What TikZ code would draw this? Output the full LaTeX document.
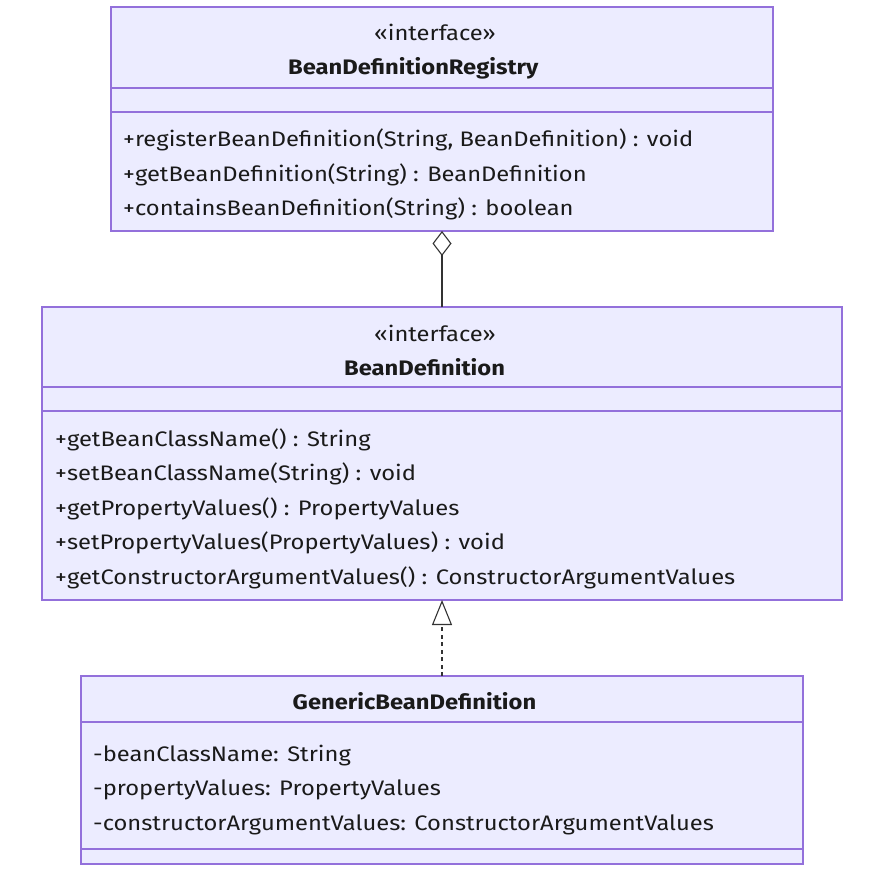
\documentclass[tikz,border=0pt]{standalone}
\usepackage{fontspec}
\setmainfont[FakeStretch=1.13]{Fira Sans}
\usetikzlibrary{arrows.meta}
\definecolor{boxfill}{HTML}{ECECFF}
\definecolor{boxline}{HTML}{9370DB}
\definecolor{txt}{HTML}{1A1A1A}
\definecolor{conncol}{HTML}{333333}
\begin{document}
\begin{tikzpicture}[x=1pt,y=-1pt,
  classbox/.style={draw=boxline, fill=boxfill, line width=1.3pt, inner sep=0pt, outer sep=0pt},
  divider/.style={draw=boxline, line width=1.3pt},
  member/.style={anchor=base west, inner sep=0pt, font=\fontsize{21}{21}\selectfont, text=txt},
  title/.style={anchor=base west, inner sep=0pt, font=\bfseries\fontsize{21}{21}\selectfont, text=txt},
  stereo/.style={anchor=base west, inner sep=0pt, font=\fontsize{21}{21}\selectfont, text=txt},
  conn/.style={draw=conncol, line width=1.1pt}]
\useasboundingbox (0,0) rectangle (877,874);
% boxes
\node[classbox, minimum width=662pt, minimum height=224pt] (reg) at (442,119) {};
\node[classbox, minimum width=800pt, minimum height=293pt] (bd) at (442,453.5) {};
\node[classbox, minimum width=722pt, minimum height=188pt] (gen) at (442,770) {};
% dividers
\draw[divider] (reg.west |- 0,88) -- (reg.east |- 0,88);
\draw[divider] (reg.west |- 0,112) -- (reg.east |- 0,112);
\draw[divider] (bd.west |- 0,387) -- (bd.east |- 0,387);
\draw[divider] (bd.west |- 0,411) -- (bd.east |- 0,411);
\draw[divider] (gen.west |- 0,722) -- (gen.east |- 0,722);
\draw[divider] (gen.west |- 0,849) -- (gen.east |- 0,849);
% registry
\node[stereo] (regst) at (374,41) {«interface»};
\node[title] (regti) at (288,75) {BeanDefinitionRegistry};
\node[member] (r1) at (123,147) {+registerBeanDefinition(String, BeanDefinition) : void};
\node[member] (r2) at (123,181.5) {+getBeanDefinition(String) : BeanDefinition};
\node[member] (r3) at (123,216) {+containsBeanDefinition(String) : boolean};
% bean definition
\node[stereo] (bdst) at (374,341) {«interface»};
\node[title] (bdti) at (344,375) {BeanDefinition};
\node[member] (b1) at (55,446) {+getBeanClassName() : String};
\node[member] (b2) at (55,480.5) {+setBeanClassName(String) : void};
\node[member] (b3) at (55,515) {+getPropertyValues() : PropertyValues};
\node[member] (b4) at (55,549.5) {+setPropertyValues(PropertyValues) : void};
\node[member] (b5) at (55,584) {+getConstructorArgumentValues() : ConstructorArgumentValues};
% generic
\node[title] (genti) at (292.5,709) {GenericBeanDefinition};
\node[member] (g1) at (93,761) {-beanClassName: String};
\node[member] (g2) at (93,795.5) {-propertyValues: PropertyValues};
\node[member] (g3) at (93,830) {-constructorArgumentValues: ConstructorArgumentValues};
% connectors
\draw[conn, -{Diamond[open, length=25pt, width=19pt]}] (bd.north) -- (reg.south);
\draw[conn, dash pattern=on 4pt off 3.5pt, -{Triangle[open, length=25pt, width=20pt]}] (gen.north) -- (bd.south);
\end{tikzpicture}
\end{document}
